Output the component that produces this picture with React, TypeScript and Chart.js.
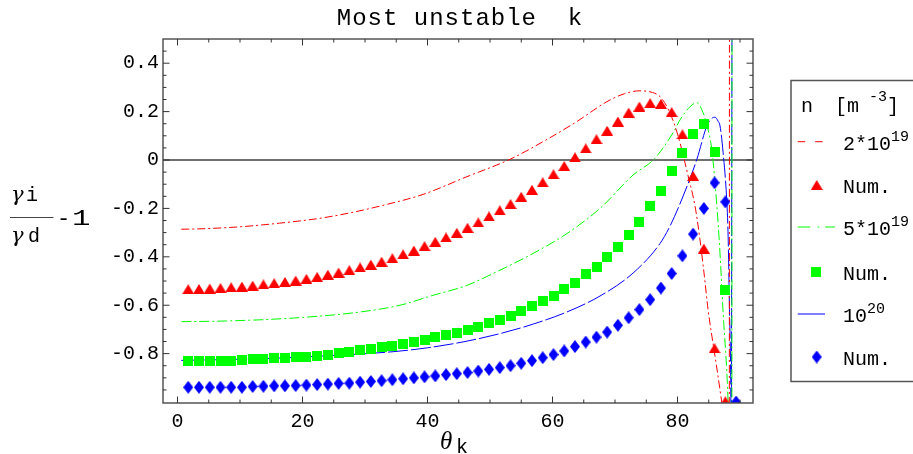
import React, { useEffect, useRef } from 'react';
import { Chart, registerables } from 'chart.js';

Chart.register(...registerables);

// ---- data ----
const thetaNum = [1.72, 3.44, 5.16, 6.88, 8.59, 10.31, 12.03, 13.75, 15.47, 17.19, 18.91, 20.63, 22.35, 24.06, 25.78, 27.5, 29.22, 30.94, 32.66, 34.38, 36.1, 37.82, 39.53, 41.25, 42.97, 44.69, 46.41, 48.13, 49.85, 51.57, 53.29, 55.0, 56.72, 58.44, 60.16, 61.88, 63.6, 65.32, 67.04, 68.75, 70.47, 72.19, 73.91, 75.63, 77.35, 79.07, 80.79, 82.5, 84.22, 85.94, 87.66, 89.38];

const redNum = [-0.534, -0.533, -0.531, -0.529, -0.526, -0.523, -0.519, -0.514, -0.509, -0.504, -0.498, -0.491, -0.483, -0.474, -0.465, -0.455, -0.444, -0.432, -0.42, -0.406, -0.39, -0.374, -0.356, -0.338, -0.32, -0.301, -0.28, -0.258, -0.233, -0.208, -0.182, -0.152, -0.123, -0.092, -0.059, -0.025, 0.011, 0.048, 0.086, 0.121, 0.159, 0.196, 0.221, 0.235, 0.232, 0.198, 0.106, -0.066, -0.366, -0.778, -0.997, null];

const greenNum = [-0.832, -0.831, -0.83, -0.83, -0.83, -0.826, -0.824, -0.821, -0.82, -0.817, -0.814, -0.812, -0.809, -0.805, -0.797, -0.792, -0.787, -0.78, -0.774, -0.767, -0.759, -0.751, -0.742, -0.733, -0.722, -0.714, -0.701, -0.69, -0.674, -0.66, -0.643, -0.622, -0.602, -0.581, -0.56, -0.533, -0.507, -0.473, -0.442, -0.399, -0.359, -0.308, -0.255, -0.19, -0.127, -0.047, 0.03, 0.109, 0.148, 0.035, -0.538, null];

const blueNum = [-0.939, -0.939, -0.939, -0.939, -0.939, -0.939, -0.936, -0.935, -0.933, -0.933, -0.932, -0.93, -0.928, -0.926, -0.923, -0.922, -0.918, -0.915, -0.912, -0.908, -0.904, -0.9, -0.896, -0.892, -0.887, -0.883, -0.878, -0.872, -0.865, -0.858, -0.85, -0.84, -0.829, -0.817, -0.804, -0.789, -0.771, -0.752, -0.732, -0.711, -0.683, -0.652, -0.618, -0.577, -0.529, -0.469, -0.396, -0.306, -0.2, -0.094, -0.173, -1.0];

const redCurveX = [0.6, 4.1, 10.5, 16.3, 22.2, 27.5, 33.4, 39.3, 46.3, 53.2, 58.5, 63.9, 68.7, 71.5, 74.0, 76.0, 77.2, 78.7, 80.1, 81.7, 82.8, 83.6, 84.3, 84.9, 86.0, 86.8, 87.3, 87.6, 88.29, 88.31];
const redCurveY = [-0.286, -0.284, -0.275, -0.261, -0.243, -0.219, -0.184, -0.142, -0.069, 0.003, 0.076, 0.159, 0.241, 0.274, 0.286, 0.279, 0.262, 0.2, 0.099, -0.066, -0.19, -0.33, -0.48, -0.62, -0.81, -0.95, -1.05, -1.15, -1.15, 0.6];

const greenCurveX = [0.6, 7.9, 18.5, 29.2, 35.6, 40.9, 46.3, 51.6, 56.9, 62.3, 67.6, 72.9, 76.3, 79.3, 80.5, 82.0, 83.1, 84.1, 84.7, 85.5, 86.3, 86.8, 87.3, 87.9, 88.1, 88.3, 88.7, 88.72];
const greenCurveY = [-0.668, -0.665, -0.653, -0.628, -0.6, -0.559, -0.518, -0.455, -0.386, -0.304, -0.2, -0.062, 0.005, 0.113, 0.17, 0.22, 0.237, 0.195, 0.145, 0.04, -0.19, -0.385, -0.63, -0.88, -1.0, -1.15, -1.15, 0.6];

const blueCurveX = [0.6, 13.2, 23.9, 34.5, 40.0, 46.0, 51.5, 56.9, 62.3, 67.6, 72.9, 77.2, 78.8, 80.9, 83.1, 84.7, 85.5, 86.0, 86.5, 86.8, 87.3, 87.9, 88.1, 88.3, 88.5, 88.6, 88.72];
const blueCurveY = [-0.828, -0.821, -0.809, -0.792, -0.776, -0.75, -0.718, -0.678, -0.628, -0.562, -0.467, -0.345, -0.273, -0.149, 0.003, 0.141, 0.172, 0.177, 0.16, 0.141, 0.03, -0.177, -0.315, -0.591, -0.867, -1.15, 0.6];

const xTicks = [0, 20, 40, 60, 80];
const yTicks = [-0.8, -0.6, -0.4, -0.2, 0, 0.2, 0.4];
const xMinorTicks = [0, 5, 10, 15, 20, 25, 30, 35, 40, 45, 50, 55, 60, 65, 70, 75, 80, 85, 90];
const yMinorTicks = [-0.95, -0.9, -0.85, -0.8, -0.75, -0.7, -0.65, -0.6, -0.55, -0.5, -0.45, -0.4, -0.35, -0.3, -0.25, -0.2, -0.15, -0.1, -0.05, 0, 0.05, 0.1, 0.15, 0.2, 0.25, 0.3, 0.35, 0.4, 0.45];

const titleText = 'Most unstable  k';
const legendHeader = ['n', '[m', '-3', ']'];
const legendLabels = [
  { base: '2*10', sup: '19' },
  { base: 'Num.', sup: '' },
  { base: '5*10', sup: '19' },
  { base: 'Num.', sup: '' },
  { base: '10', sup: '20' },
  { base: 'Num.', sup: '' },
];

const MONO = '"Liberation Mono", "DejaVu Sans Mono", monospace';
const SERIF = '"DejaVu Serif", "Liberation Serif", serif';
const RED = '#ff0000';
const GREEN = '#00ff00';
const BLUE = '#0000ff';

function makeMarker(w: number, h: number, color: string, kind: string) {
  const c = document.createElement('canvas');
  c.width = w;
  c.height = h;
  const g = c.getContext('2d')!;
  g.fillStyle = color;
  g.beginPath();
  if (kind === 'tri') {
    g.moveTo(w / 2, 0);
    g.lineTo(w, h);
    g.lineTo(0, h);
  } else if (kind === 'dia') {
    g.moveTo(w / 2, 0);
    g.lineTo(w, h / 2);
    g.lineTo(w / 2, h);
    g.lineTo(0, h / 2);
  } else {
    g.rect(0, 0, w, h);
  }
  g.closePath();
  g.fill();
  return c;
}

function pts(xs: number[], ys: (number | null)[]) {
  const out: { x: number; y: number }[] = [];
  xs.forEach((x, i) => {
    const y = ys[i];
    if (y !== null && y !== undefined) out.push({ x, y });
  });
  return out;
}

export default function App() {
  const ref = useRef<HTMLCanvasElement>(null);

  useEffect(() => {
    const canvas = ref.current!;
    const tri = makeMarker(12, 10, RED, 'tri');
    const sq = makeMarker(10, 10, GREEN, 'sq');
    const dia = makeMarker(10, 13, BLUE, 'dia');

    const decor = {
      id: 'decor',
      beforeDatasetsDraw(chart: any) {
        const { ctx, chartArea: a, scales } = chart;
        const y0 = scales.y.getPixelForValue(0);
        ctx.save();
        ctx.strokeStyle = '#404040';
        ctx.lineWidth = 1.5;
        ctx.beginPath();
        ctx.moveTo(a.left, y0);
        ctx.lineTo(a.right, y0);
        ctx.stroke();
        ctx.restore();
      },
      afterDraw(chart: any) {
        const { ctx, chartArea: a, scales } = chart;
        const xs = scales.x;
        const ys = scales.y;
        ctx.save();
        // frame
        ctx.strokeStyle = '#555';
        ctx.lineWidth = 1.5;
        ctx.strokeRect(a.left, a.top, a.right - a.left, a.bottom - a.top);
        // ticks
        ctx.lineWidth = 1;
        ctx.strokeStyle = '#333';
        ctx.beginPath();
        xMinorTicks.forEach((v) => {
          const p = xs.getPixelForValue(v);
          if (p <= a.left + 1 || p >= a.right - 1) return;
          const len = xTicks.includes(v) ? 6.5 : 3.5;
          ctx.moveTo(p, a.bottom);
          ctx.lineTo(p, a.bottom - len);
          ctx.moveTo(p, a.top);
          ctx.lineTo(p, a.top + len);
        });
        yMinorTicks.forEach((v) => {
          const p = ys.getPixelForValue(v);
          if (p <= a.top + 1 || p >= a.bottom - 1) return;
          const len = yTicks.some((t) => Math.abs(t - v) < 1e-6) ? 6.5 : 3.5;
          ctx.moveTo(a.left, p);
          ctx.lineTo(a.left + len, p);
          ctx.moveTo(a.right, p);
          ctx.lineTo(a.right - len, p);
        });
        ctx.stroke();

        ctx.fillStyle = '#000';
        ctx.textBaseline = 'alphabetic';
        // title
        ctx.font = `24px ${MONO}`;
        (ctx as any).letterSpacing = '1px';
        ctx.textAlign = 'center';
        ctx.fillText(titleText, 460, 25);
        (ctx as any).letterSpacing = '0px';

        // y-axis label: gamma_i / gamma_d - 1
        ctx.textAlign = 'left';
        ctx.font = `italic 21px ${SERIF}`;
        ctx.fillText('γ', 11, 201);
        ctx.fillText('γ', 11, 242);
        ctx.font = `20px ${MONO}`;
        ctx.fillText('i', 26, 201);
        ctx.fillText('d', 28, 242);
        ctx.strokeStyle = '#444';
        ctx.lineWidth = 1;
        ctx.beginPath();
        ctx.moveTo(10, 217.5);
        ctx.lineTo(53.5, 217.5);
        ctx.stroke();
        ctx.font = `22px ${MONO}`;
        ctx.fillText('-', 57, 225);
        ctx.save();
        ctx.translate(72, 225);
        ctx.scale(1.4, 1);
        ctx.fillText('1', 0, 0);
        ctx.restore();

        // x-axis label: theta_k
        ctx.font = `italic 25px "Liberation Serif", serif`;
        ctx.fillText('θ', 440, 449);
        ctx.font = `20px ${MONO}`;
        ctx.fillText('k', 456, 453);

        // legend box
        ctx.strokeStyle = '#555';
        ctx.lineWidth = 1.5;
        ctx.strokeRect(791, 80.5, 200, 301);
        ctx.font = `20px ${MONO}`;
        ctx.fillText(legendHeader[0], 801, 111.5);
        ctx.fillText(legendHeader[1], 835, 111.5);
        ctx.font = `15px ${MONO}`;
        ctx.fillText(legendHeader[2], 869, 101);
        ctx.font = `20px ${MONO}`;
        ctx.fillText(legendHeader[3], 887, 111.5);

        const rows = [141.7, 185, 227, 271.7, 314, 357];
        // samples
        ctx.lineWidth = 1;
        ctx.strokeStyle = RED;
        ctx.setLineDash([7.5, 10]);
        ctx.beginPath();
        ctx.moveTo(797.7, rows[0]);
        ctx.lineTo(823.5, rows[0]);
        ctx.stroke();
        ctx.strokeStyle = GREEN;
        ctx.setLineDash([12.5, 7.5, 1.5, 6]);
        ctx.beginPath();
        ctx.moveTo(797.7, rows[2]);
        ctx.lineTo(835, rows[2]);
        ctx.stroke();
        ctx.strokeStyle = BLUE;
        ctx.setLineDash([]);
        ctx.beginPath();
        ctx.moveTo(797.7, rows[4]);
        ctx.lineTo(825, rows[4]);
        ctx.stroke();
        ctx.drawImage(tri, 816.7 - 6, rows[1] - 5);
        ctx.drawImage(sq, 816.2 - 5, rows[3] - 5);
        ctx.drawImage(dia, 816.7 - 5, rows[5] - 6.5);

        legendLabels.forEach((lab, i) => {
          const yb = rows[i] + 8;
          ctx.font = `20px ${MONO}`;
          ctx.fillText(lab.base, 843, yb);
          if (lab.sup) {
            const w = ctx.measureText(lab.base).width;
            ctx.font = `15px ${MONO}`;
            ctx.fillText(lab.sup, 843 + w, yb - 9);
          }
        });
        ctx.restore();
      },
    };

    const tickFont = { family: MONO, size: 20 };

    const chart = new Chart(canvas, {
      type: 'scatter',
      data: {
        datasets: [
          { label: 'Num. 2e19', data: pts(thetaNum, redNum), pointStyle: tri as any, pointRadius: 5, showLine: false, order: 0, clip: 0 } as any,
          { label: 'Num. 5e19', data: pts(thetaNum, greenNum), pointStyle: sq as any, pointRadius: 5, showLine: false, order: 0, clip: 0 } as any,
          { label: 'Num. 1e20', data: pts(thetaNum, blueNum), pointStyle: dia as any, pointRadius: 5, showLine: false, order: 0, clip: 0 } as any,
          { label: '2*10^19', data: pts(redCurveX, redCurveY), showLine: true, borderColor: RED, borderWidth: 1, borderDash: [8, 3, 2, 3], pointRadius: 0, cubicInterpolationMode: 'monotone', order: 1, clip: 0 } as any,
          { label: '5*10^19', data: pts(greenCurveX, greenCurveY), showLine: true, borderColor: GREEN, borderWidth: 1, borderDash: [10, 3, 2, 3], pointRadius: 0, cubicInterpolationMode: 'monotone', order: 1, clip: 0 } as any,
          { label: '10^20', data: pts(blueCurveX, blueCurveY), showLine: true, borderColor: BLUE, borderWidth: 1, borderDash: [20, 3], pointRadius: 0, cubicInterpolationMode: 'monotone', order: 1, clip: 0 } as any,
        ],
      },
      options: {
        responsive: false,
        devicePixelRatio: 1,
        animation: false,
        events: [],
        layout: { padding: { left: 0, top: 39, right: 160, bottom: 0 } },
        plugins: { legend: { display: false }, tooltip: { enabled: false }, title: { display: false } },
        scales: {
          x: {
            type: 'linear',
            min: -2.32,
            max: 92.08,
            grid: { display: false, drawTicks: false },
            border: { display: false },
            ticks: { font: tickFont, color: '#000', padding: 7, maxRotation: 0, autoSkip: false, callback: (v: any) => String(v) },
            afterBuildTicks: (s: any) => { s.ticks = xTicks.map((v) => ({ value: v })); },
            afterFit: (s: any) => { s.height = 51; },
          },
          y: {
            type: 'linear',
            min: -1.004,
            max: 0.5,
            grid: { display: false, drawTicks: false },
            border: { display: false },
            ticks: { font: tickFont, color: '#000', padding: 4, autoSkip: false, callback: (v: any) => String(Number(Number(v).toFixed(1))) },
            afterBuildTicks: (s: any) => { s.ticks = yTicks.map((v) => ({ value: v })); },
            afterFit: (s: any) => { s.width = 163; },
          },
        },
      } as any,
      plugins: [decor],
    });
    return () => chart.destroy();
  }, []);

  return (
    <div style={{ position: 'absolute', left: 0, top: 0, width: 913, height: 454, background: '#fff' }}>
      <canvas ref={ref} width={913} height={454} style={{ width: 913, height: 454, display: 'block' }} />
    </div>
  );
}
